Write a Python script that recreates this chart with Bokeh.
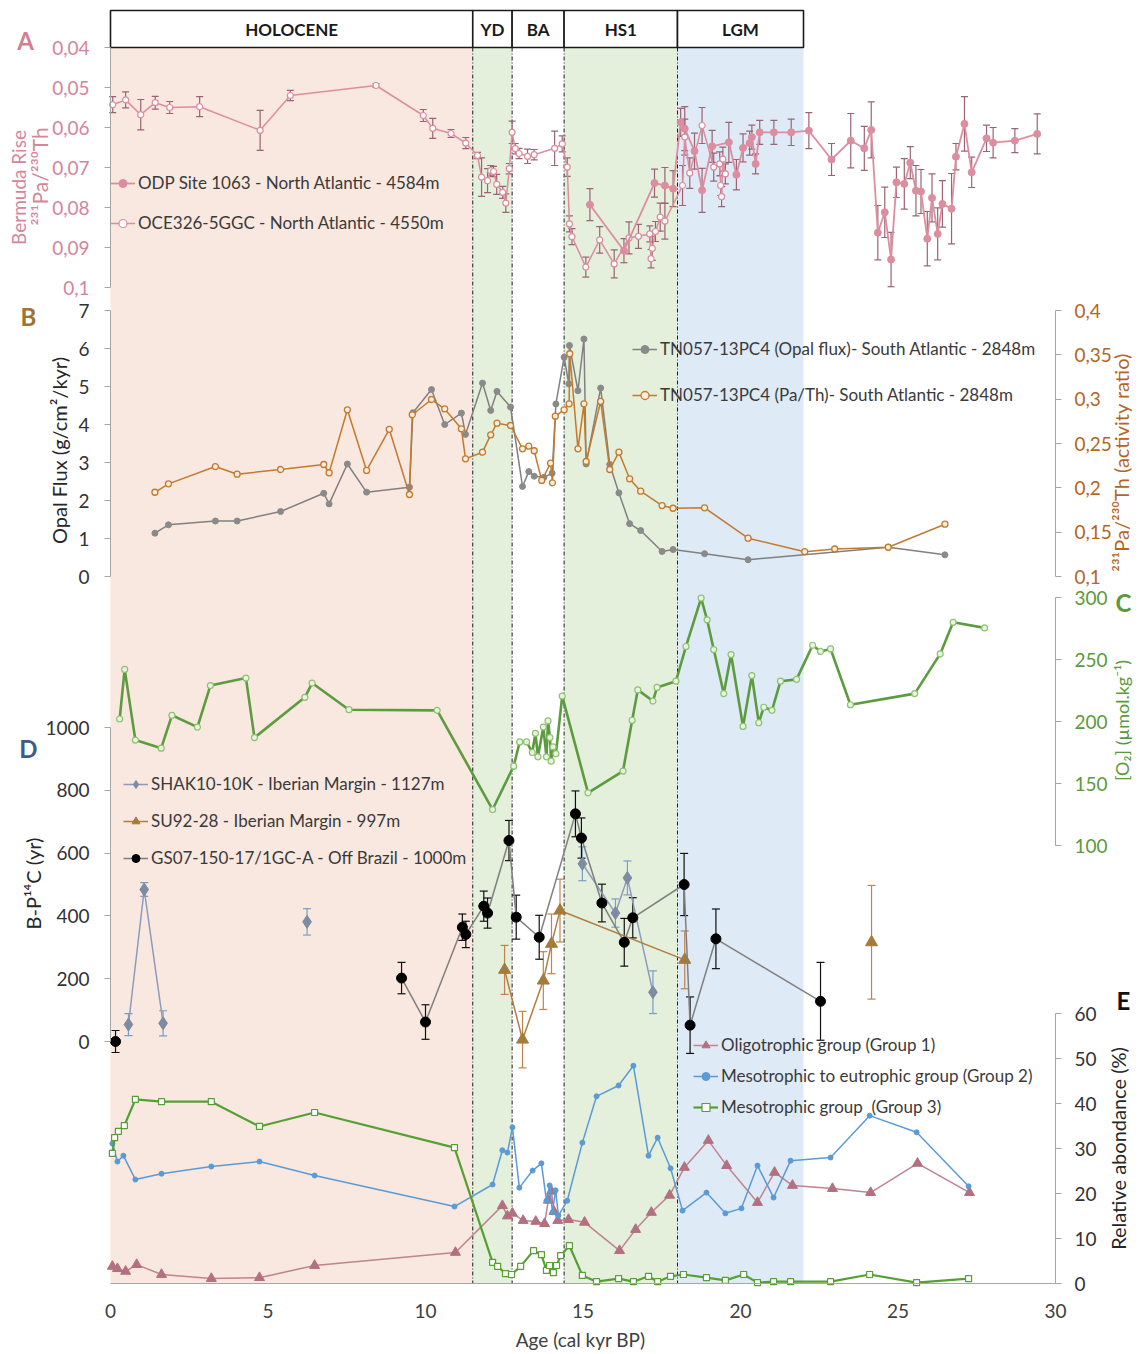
import math
from bokeh.plotting import figure
from bokeh.models import (Range1d, LinearAxis, FixedTicker, CustomJSTickFormatter,
                          Label, Legend, LegendItem)
from bokeh.core.properties import value
from bokeh.embed import file_html
from bokeh.resources import INLINE

NaN = float("nan")

# ---------------- data ----------------
periods = ["HOLOCENE", "YD", "BA", "HS1", "LGM"]
period_start = [0.0, 11.5, 12.75, 14.4, 18.0]
period_end = [11.5, 12.75, 14.4, 18.0, 22.0]

# A - Bermuda Rise 231Pa/230Th
odp_age = [15.22, 16.30, 17.27, 17.60, 17.86, 18.10, 18.23, 18.54, 18.78, 19.10, 19.63, 19.87,
           20.08, 20.29, 20.36, 20.48, 20.61, 21.06, 21.61, 22.17, 22.89, 23.50, 23.93, 24.15,
           24.36, 24.58, 24.78, 24.95, 25.20, 25.39, 25.57, 25.73, 25.93, 26.08, 26.26, 26.41,
           26.70, 26.84, 27.11, 27.34, 27.81, 28.02, 28.71, 29.42]
odp_pa = [0.0793, 0.0908, 0.0739, 0.0745, 0.0753, 0.0587, 0.0603, 0.0659, 0.0757, 0.0647, 0.0637,
          0.0718, 0.0651, 0.0639, 0.0624, 0.0691, 0.0612, 0.0612, 0.0612, 0.0608, 0.0680, 0.0633,
          0.0652, 0.0606, 0.0863, 0.0812, 0.0930, 0.0737, 0.0741, 0.0688, 0.0758, 0.0760, 0.0878,
          0.0776, 0.0866, 0.0791, 0.0803, 0.0673, 0.0591, 0.0712, 0.0627, 0.0638, 0.0633, 0.0616]
odp_err = [0.0040, 0.0030, 0.0035, 0.0045, 0.0045, 0.0035, 0.0055, 0.0045, 0.0055, 0.0040, 0.0050,
           0.0038, 0.0035, 0.0030, 0.0030, 0.0025, 0.0030, 0.0030, 0.0033, 0.0045, 0.0040, 0.0068,
           0.0055, 0.0070, 0.0068, 0.0063, 0.0068, 0.0038, 0.0063, 0.0040, 0.0063, 0.0055, 0.0068,
           0.0060, 0.0065, 0.0058, 0.0088, 0.0033, 0.0068, 0.0038, 0.0033, 0.0038, 0.0030, 0.0050]

oce_age = [0.07, 0.48, 0.96, 1.42, 1.88, 2.83, 4.75, 5.71, 8.43, 9.93, 10.23, 10.81, 11.28, 11.65,
           11.78, 11.97, 12.07, 12.16, 12.26, 12.45, 12.55, 12.66, 12.75, 12.85, 12.97, 13.24,
           13.45, 14.10, 14.34, 14.50, 14.57, 14.65, 15.09, 15.53, 15.99, 16.46, 16.76, 17.12,
           17.16, 17.20, 17.30, 17.45, 17.60, 18.16, 18.23, 18.39, 18.78, 19.15, 19.34, 19.37,
           19.40, 19.44, 19.52]
oce_pa = [0.0543, 0.0531, 0.0568, 0.0538, 0.0550, 0.0548, 0.0607, 0.0520, 0.0495, 0.0570, 0.0602,
          0.0615, 0.0639, 0.0670, 0.0724, 0.0733, 0.0708, 0.0710, 0.0742, 0.0762, 0.0789, 0.0703,
          0.0612, 0.0653, 0.0665, 0.0672, 0.0668, 0.0652, 0.0641, 0.0699, 0.0841, 0.0873, 0.0949,
          0.0881, 0.0941, 0.0876, 0.0872, 0.0866, 0.0928, 0.0902, 0.0860, 0.0824, 0.0834, 0.0745,
          0.0624, 0.0714, 0.0595, 0.0699, 0.0691, 0.0745, 0.0773, 0.0679, 0.0716]
oce_err = [0.0020, 0.0020, 0.0038, 0.0016, 0.0015, 0.0025, 0.0050, 0.0013, 0.0005, 0.0015, 0.0025,
           0.0010, 0.0014, 0.0008, 0.0048, 0.0030, 0.0013, 0.0013, 0.0025, 0.0015, 0.0023, 0.0013,
           0.0028, 0.0013, 0.0013, 0.0018, 0.0013, 0.0043, 0.0020, 0.0023, 0.0020, 0.0020, 0.0025,
           0.0033, 0.0035, 0.0040, 0.0030, 0.0020, 0.0023, 0.0030, 0.0025, 0.0035, 0.0045, 0.0050,
           0.0045, 0.0038, 0.0045, 0.0035, 0.0030, 0.0025, 0.0025, 0.0030, 0.0025]

# B - TN057-13PC4
opal_age = [1.41, 1.84, 3.33, 4.02, 5.40, 6.77, 6.94, 7.52, 8.13, 9.49, 9.60, 10.19, 10.61, 11.14,
            11.27, 11.81, 12.07, 12.27, 12.70, 13.08, 13.28, 13.45, 13.76, 14.02, 14.14, 14.40,
            14.55, 14.57, 14.84, 15.03, 15.10, 15.56, 15.85, 16.14, 16.48, 16.83, 17.51, 17.86,
            18.86, 20.24, 24.69, 26.49]
opal_flux = [1.14, 1.36, 1.46, 1.46, 1.71, 2.19, 1.91, 2.96, 2.22, 2.35, 4.31, 4.92, 4.00, 4.30,
             3.74, 5.09, 4.37, 4.87, 4.46, 2.37, 2.76, 2.64, 2.61, 2.72, 4.54, 5.77, 5.07, 6.08,
             4.89, 6.25, 2.96, 4.96, 2.95, 2.20, 1.39, 1.21, 0.66, 0.71, 0.60, 0.44, 0.77, 0.57]
path_age = [1.41, 1.84, 3.33, 4.02, 5.40, 6.77, 6.94, 7.52, 8.13, 8.85, 9.49, 9.58, 10.19, 10.61,
            11.14, 11.27, 11.81, 12.07, 12.27, 12.70, 13.08, 13.28, 13.45, 13.69, 13.97, 14.03,
            14.12, 14.40, 14.56, 14.58, 14.84, 15.03, 15.10, 15.56, 15.85, 16.14, 16.48, 16.83,
            17.51, 17.86, 18.86, 20.24, 22.04, 22.99, 24.69, 26.49]
pa_th = [0.195, 0.2045, 0.224, 0.2154, 0.2207, 0.2263, 0.217, 0.288, 0.2196, 0.266, 0.1925, 0.2824,
         0.2996, 0.289, 0.2666, 0.2327, 0.2402, 0.2598, 0.2729, 0.2703, 0.244, 0.247, 0.2418,
         0.2083, 0.2278, 0.2057, 0.2808, 0.288, 0.2948, 0.3512, 0.244, 0.2948, 0.2297, 0.2974,
         0.2207, 0.2402, 0.2102, 0.1962, 0.18, 0.177, 0.1775, 0.1432, 0.128, 0.131, 0.133, 0.159]

# C - [O2]
o2_age = [0.29, 0.45, 0.79, 1.61, 1.95, 2.76, 3.17, 4.30, 4.57, 6.17, 6.40, 7.57, 10.37, 12.13,
          12.80, 12.99, 13.21, 13.39, 13.49, 13.57, 13.74, 13.84, 13.89, 13.95, 13.99, 14.05, 14.14,
          14.34, 15.16, 16.27, 16.56, 16.74, 17.22, 17.35, 17.95, 18.27, 18.75, 18.94, 19.15, 19.47,
          19.70, 20.08, 20.36, 20.58, 20.74, 21.00, 21.27, 21.78, 22.29, 22.54, 22.86, 23.49,
          25.53, 26.34, 26.75, 27.75]
o2_val = [202, 242, 185, 178.5, 205, 195.5, 229, 235, 187, 219.5, 231, 209.5, 209, 129, 164, 183.5,
          183.5, 175, 190.5, 171.5, 195.5, 171.5, 200.5, 187, 168, 179.5, 174, 220.5, 142.5, 160,
          201, 225.5, 216.5, 227.5, 232.5, 260.5, 299.5, 282, 258, 222.5, 254, 196, 237, 199,
          211.5, 209, 232.5, 234, 261.5, 256.5, 258.5, 213.5, 222.5, 254.5, 280, 275.5]

# D - B-P14C
shak_age = [0.57, 1.07, 1.67, NaN, 6.24, NaN, 14.98, 16.03, 16.41, 17.22]
shak_bp = [54, 484, 58, NaN, 381, NaN, 566, 409, 521, 157]
shak_err = [35, 22, 40, NaN, 42, NaN, 54, 45, 54, 68]

su_age = [12.51, 13.08, 13.74, 14.00, 14.27, 18.23, NaN, 24.16]
su_bp = [228, 6, 194, 311, 417, 260, NaN, 316]
su_err = [78, 90, 92, 95, 100, 92, NaN, 181]

gs_age = [0.16, NaN, 9.24, 10.00, 11.17, 11.28, 11.85, 11.97, 12.65, 12.88, 13.61, 14.76, 14.95,
          15.60, 16.31, 16.58, 18.21, 18.40, 19.22, 22.54]
gs_bp = [0, NaN, 202, 62, 364, 341, 431, 409, 640, 396, 332, 725, 648, 441, 316, 394, 500, 52, 327, 128]
gs_err = [35, NaN, 50, 55, 42, 42, 48, 48, 64, 70, 70, 73, 64, 60, 76, 64, 99, 90, 95, 124]

# E - relative abundance (%)
g1_age = [0.06, 0.22, 0.48, 0.83, 1.62, 3.20, 4.73, 6.48, 10.95, 12.44, 12.60, 12.76, 13.10, 13.50,
          13.78, 13.90, 14.00, 14.08, 14.20, 14.54, 15.05, 16.16, 16.67, 17.17, 17.75, 18.22,
          18.98, 19.56, 20.54, 21.08, 21.65, 22.92, 24.13, 25.62, 27.27]
g1_val = [3.8, 3.3, 2.7, 4.2, 2.0, 1.1, 1.3, 4.0, 6.9, 17.3, 15.0, 15.6, 14.0, 13.8, 13.3, 18.5,
          20.5, 16.0, 14.0, 14.2, 13.6, 7.3, 12.0, 15.8, 19.6, 25.8, 31.8, 26.2, 18.0, 24.7, 21.8,
          21.1, 20.2, 26.7, 20.2]
g2_age = [0.06, 0.22, 0.41, 0.79, 1.62, 3.20, 4.73, 6.48, 10.92, 12.13, 12.44, 12.60, 12.76, 12.98,
          13.40, 13.68, 13.84, 13.94, 14.03, 14.13, 14.22, 14.50, 14.98, 15.43, 16.13, 16.60,
          17.08, 17.37, 17.78, 18.16, 18.92, 19.52, 20.03, 20.54, 21.05, 21.59, 22.86, 24.10,
          25.59, 27.24]
g2_val = [31.1, 27.1, 28.4, 23.1, 24.4, 26.0, 27.1, 24.0, 17.1, 22.0, 29.6, 29.1, 34.7, 21.3, 25.1,
          26.7, 18.4, 21.8, 15.8, 20.7, 15.1, 18.4, 31.3, 41.6, 44.0, 48.4, 28.4, 32.4, 25.6, 16.2,
          20.2, 15.6, 16.7, 26.2, 19.1, 27.3, 28.0, 37.3, 33.6, 21.6]
g3_age = [0.06, 0.13, 0.25, 0.44, 0.79, 1.62, 3.20, 4.73, 6.48, 10.92, 12.13, 12.29, 12.54, 12.73,
          13.02, 13.43, 13.68, 13.84, 13.94, 14.06, 14.16, 14.29, 14.57, 14.98, 15.43, 16.13,
          16.60, 17.08, 17.37, 17.78, 18.19, 18.92, 19.52, 20.10, 20.54, 21.05, 21.59, 22.86,
          24.10, 25.59, 27.24]
g3_val = [28.9, 32.4, 33.8, 35.1, 40.9, 40.4, 40.4, 34.9, 38.0, 30.2, 4.7, 3.8, 2.2, 2.0, 3.8, 7.3,
          6.4, 2.9, 4.0, 2.4, 4.0, 6.2, 8.4, 1.8, 0.4, 1.1, 0.4, 1.6, 0.4, 1.6, 2.0, 1.3, 0.7, 2.0,
          0.2, 0.4, 0.4, 0.4, 2.0, 0.2, 1.1]

# tick values
x_ticks = [0, 5, 10, 15, 20, 25, 30]
a_ticks = [0.04, 0.05, 0.06, 0.07, 0.08, 0.09, 0.1]
b_ticks = [0, 1, 2, 3, 4, 5, 6, 7]
br_ticks = [0.1, 0.15, 0.2, 0.25, 0.3, 0.35, 0.4]
c_ticks = [100, 150, 200, 250, 300]
d_ticks = [0, 200, 400, 600, 800, 1000]
e_ticks = [0, 10, 20, 30, 40, 50, 60]

# ---------------- layout helpers ----------------
FONT = "Lato"
W, H = 1136, 1350
X0_PX, X1_PX = 110, 1055      # where ages 0 and 30 sit
AXIS_Y = 1283                 # where the age axis sits
SHADE_TOP = 47


def kx(px):
    return (px - X0_PX) * 30.0 / (X1_PX - X0_PX)


def panel_range(v_a, px_a, v_b, px_b):
    k = (v_b - v_a) / (px_b - px_a)
    return Range1d(start=v_a + (H - px_a) * k, end=v_a + (0 - px_a) * k)


p = figure(x_range=Range1d(kx(0), kx(W)), y_range=Range1d(H, 0),
           frame_width=W, frame_height=H, min_border=0,
           output_backend="svg", toolbar_location=None,
           x_axis_location=None, y_axis_location=None,
           outline_line_color=None, background_fill_color="white", border_fill_color="white")
p.grid.visible = False

p.extra_y_ranges = {
    "A": panel_range(0.04, 47, 0.1, 287),
    "B": panel_range(7, 310, 0, 576),
    "BR": panel_range(0.4, 310, 0.1, 576),
    "C": panel_range(300, 597, 100, 845),
    "D": panel_range(1000, 727, 0, 1041),
    "E": panel_range(60, 1013, 0, 1283),
}

fmt = CustomJSTickFormatter(code="""
    let s = tick.toFixed(3);
    s = s.replace(/0+$/, '').replace(/\\.$/, '');
    return s.replace('.', ',');
""")

# shading and header
shade_fill = ["#f9e8df", "#e4efdc", "#ffffff", "#e4efdc", "#deeaf6"]
p.quad(left=period_start, right=period_end, bottom=AXIS_Y, top=SHADE_TOP,
       fill_color=shade_fill, line_color=None)
p.segment(x0=period_start[1:], y0=SHADE_TOP, x1=period_start[1:], y1=AXIS_Y,
          line_color="#1a1a1a", line_dash="4 2 1 2", line_width=1)
p.quad(left=period_start, right=period_end, bottom=SHADE_TOP, top=10,
       fill_color="white", line_color="#1a1a1a", line_width=1.6)
p.text(x=[(a + b) / 2 for a, b in zip(period_start, period_end)], y=[29] * len(periods),
       text=periods, text_font=value(FONT), text_font_size="17px", text_font_style="bold",
       text_align="center", text_baseline="middle", text_color="#1a1a1a")

# age axis
xa = LinearAxis(fixed_location=AXIS_Y, bounds=(0, 30), ticker=FixedTicker(ticks=x_ticks),
                axis_line_color="#a6a6a6", major_tick_out=0, major_tick_in=0,
                minor_tick_line_color=None, major_label_text_font=FONT,
                major_label_text_font_size="19px", major_label_text_color="#404040",
                major_label_standoff=20, axis_label="Age (cal kyr  BP)",
                axis_label_text_font=FONT, axis_label_text_font_size="19px",
                axis_label_text_font_style="normal", axis_label_text_color="#404040",
                axis_label_standoff=7)
p.add_layout(xa, "below")


def add_axis(side, rname, ticks, color, loc, standoff):
    ax = LinearAxis(y_range_name=rname, fixed_location=loc, bounds=(min(ticks), max(ticks)),
                    ticker=FixedTicker(ticks=ticks), formatter=fmt,
                    axis_line_color="#a6a6a6", major_tick_line_color="#a6a6a6",
                    major_tick_out=6, major_tick_in=0, minor_tick_line_color=None,
                    major_label_text_color=color, major_label_text_font=FONT,
                    major_label_text_font_size="19px", major_label_standoff=standoff)
    p.add_layout(ax, side)


add_axis("left", "A", a_ticks, "#d4849a", 0, 15)
add_axis("left", "B", b_ticks, "#333333", 0, 15)
add_axis("left", "D", d_ticks, "#333333", 0, 15)
add_axis("right", "BR", br_ticks, "#b5651d", 30, 13)
add_axis("right", "C", c_ticks, "#5b9a3c", 30, 13)
add_axis("right", "E", e_ticks, "#333333", 30, 13)


def errbars(xs, ys, es, rname, color, cap=8, width=1.2):
    xx, lo, hi = [], [], []
    for x, y, e in zip(xs, ys, es):
        if math.isnan(x) or math.isnan(y) or math.isnan(e):
            continue
        xx.append(x)
        lo.append(y - e)
        hi.append(y + e)
    p.segment(x0=xx, y0=lo, x1=xx, y1=hi, y_range_name=rname, line_color=color, line_width=width)
    p.scatter(x=xx + xx, y=lo + hi, marker="dash", size=cap, y_range_name=rname,
              line_color=color, line_width=width)


# ---- A ----
PINK = "#dc8d9f"
ERR_A = "#9a6474"
errbars(oce_age, oce_pa, oce_err, "A", ERR_A, cap=7)
errbars(odp_age, odp_pa, odp_err, "A", ERR_A, cap=7)
lA2 = p.line(oce_age, oce_pa, y_range_name="A", line_color=PINK, line_width=1.5)
sA2 = p.scatter(oce_age, oce_pa, y_range_name="A", marker="circle", size=6,
                fill_color="white", line_color=PINK, line_width=1.2)
lA1 = p.line(odp_age, odp_pa, y_range_name="A", line_color=PINK, line_width=1.8)
sA1 = p.scatter(odp_age, odp_pa, y_range_name="A", marker="circle", size=7,
                fill_color=PINK, line_color=PINK)

# ---- B ----
GRAY = "#8a8a8a"
ORANGE = "#c27a2e"
lB1 = p.line(opal_age, opal_flux, y_range_name="B", line_color="#808080", line_width=1.5)
sB1 = p.scatter(opal_age, opal_flux, y_range_name="B", marker="circle", size=6,
                fill_color=GRAY, line_color=GRAY)
lB2 = p.line(path_age, pa_th, y_range_name="BR", line_color=ORANGE, line_width=1.5)
sB2 = p.scatter(path_age, pa_th, y_range_name="BR", marker="circle", size=6,
                fill_color="#fbeee0", line_color=ORANGE, line_width=1.3)

# ---- C ----
GREEN = "#5c9b3e"
p.line(o2_age, o2_val, y_range_name="C", line_color=GREEN, line_width=2.6)
p.scatter(o2_age, o2_val, y_range_name="C", marker="circle", size=6,
          fill_color="#e9f3e2", line_color="#8cc270", line_width=1.2)

# ---- D ----
SHAK_C = "#7d8ba3"
SU_C = "#a57b3c"
errbars(shak_age, shak_bp, shak_err, "D", "#7b9bcb", cap=8)
errbars(su_age, su_bp, su_err, "D", "#bd8450", cap=8)
errbars(gs_age, gs_bp, gs_err, "D", "#111111", cap=8)
lD1 = p.line(shak_age, shak_bp, y_range_name="D", line_color="#8c9bbb", line_width=1.5)
sD1 = p.scatter(shak_age, shak_bp, y_range_name="D", marker="diamond", size=13,
                fill_color=SHAK_C, line_color=SHAK_C)
lD2 = p.line(su_age, su_bp, y_range_name="D", line_color="#b27d3f", line_width=1.5)
sD2 = p.scatter(su_age, su_bp, y_range_name="D", marker="triangle", size=12,
                fill_color=SU_C, line_color=SU_C)
lD3 = p.line(gs_age, gs_bp, y_range_name="D", line_color="#7f7f7f", line_width=1.5)
sD3 = p.scatter(gs_age, gs_bp, y_range_name="D", marker="circle", size=10,
                fill_color="black", line_color="black")

# ---- E ----
G1C = "#b27080"
G2C = "#5b9bd5"
G3C = "#55a033"
lE1 = p.line(g1_age, g1_val, y_range_name="E", line_color="#c0838f", line_width=1.5)
sE1 = p.scatter(g1_age, g1_val, y_range_name="E", marker="triangle", size=10,
                fill_color=G1C, line_color=G1C)
lE2 = p.line(g2_age, g2_val, y_range_name="E", line_color=G2C, line_width=1.5)
sE2 = p.scatter(g2_age, g2_val, y_range_name="E", marker="circle", size=5,
                fill_color=G2C, line_color=G2C)
lE3 = p.line(g3_age, g3_val, y_range_name="E", line_color=G3C, line_width=2.2)
sE3 = p.scatter(g3_age, g3_val, y_range_name="E", marker="square", size=6,
                fill_color="white", line_color=G3C, line_width=1.2)


# ---- legends ----
def add_legend(items, left_px, top_px, row_px, n):
    label_h = 20
    spacing = row_px - label_h
    height = n * label_h + (n - 1) * spacing
    leg = Legend(items=items, location=(left_px, H - (top_px + height)),
                 background_fill_alpha=0, border_line_color=None, padding=0, margin=0,
                 spacing=spacing, label_height=label_h, glyph_height=label_h, glyph_width=25,
                 label_standoff=3, label_text_font=FONT, label_text_font_size="17px",
                 label_text_color="#3a3a3a")
    p.add_layout(leg)


add_legend([LegendItem(label="ODP Site 1063 - North Atlantic - 4584m", renderers=[lA1, sA1]),
            LegendItem(label="OCE326-5GGC - North Atlantic - 4550m", renderers=[lA2, sA2])],
           110, 174, 39, 2)
add_legend([LegendItem(label="TN057-13PC4 (Opal flux)- South Atlantic - 2848m", renderers=[lB1, sB1]),
            LegendItem(label="TN057-13PC4 (Pa/Th)- South Atlantic - 2848m", renderers=[lB2, sB2])],
           632, 340, 45, 2)
add_legend([LegendItem(label="SHAK10-10K - Iberian Margin - 1127m", renderers=[lD1, sD1]),
            LegendItem(label="SU92-28 - Iberian Margin - 997m", renderers=[lD2, sD2]),
            LegendItem(label="GS07-150-17/1GC-A - Off Brazil - 1000m", renderers=[lD3, sD3])],
           123, 776, 36, 3)
add_legend([LegendItem(label="Oligotrophic group (Group 1)", renderers=[lE1, sE1]),
            LegendItem(label="Mesotrophic to eutrophic group (Group 2)", renderers=[lE2, sE2]),
            LegendItem(label="Mesotrophic group  (Group 3)", renderers=[lE3, sE3])],
           693, 1037, 30, 3)


# ---- panel letters and axis titles ----
def lab(px, py, text, color, size, bold=False, rot=False):
    p.add_layout(Label(x=kx(px), y=py, text=text, text_color=color, text_font=FONT,
                       text_font_size=size, text_font_style="bold" if bold else "normal",
                       text_align="center", text_baseline="middle",
                       angle=math.pi / 2 if rot else 0))


lab(25, 40, "A", "#d27f96", "24px", bold=True)
lab(28, 316, "B", "#9c7436", "24px", bold=True)
lab(1123, 602, "C", "#5b9a3c", "24px", bold=True)
lab(28, 748, "D", "#3d5d86", "24px", bold=True)
lab(1123, 1000, "E", "#111111", "24px", bold=True)

lab(18, 187, "Bermuda Rise", "#d4879b", "19px", rot=True)
lab(39, 176, "²³¹Pa/²³⁰Th", "#d4879b", "21px", rot=True)
lab(58, 450, "Opal Flux (g/cm²/kyr)", "#262626", "20px", rot=True)
lab(1120, 462, "²³¹Pa/²³⁰Th (activity ratio)", "#b5651d", "20px", rot=True)
lab(1121, 720, "[O₂] (µmol.kg⁻¹)", "#5b9a3c", "18px", rot=True)
lab(32, 883, "B-P¹⁴C (yr)", "#262626", "20px", rot=True)
lab(1117, 1148, "Relative abondance (%)", "#262626", "20px", rot=True)

open("out.html", "w").write(file_html(p, INLINE))
